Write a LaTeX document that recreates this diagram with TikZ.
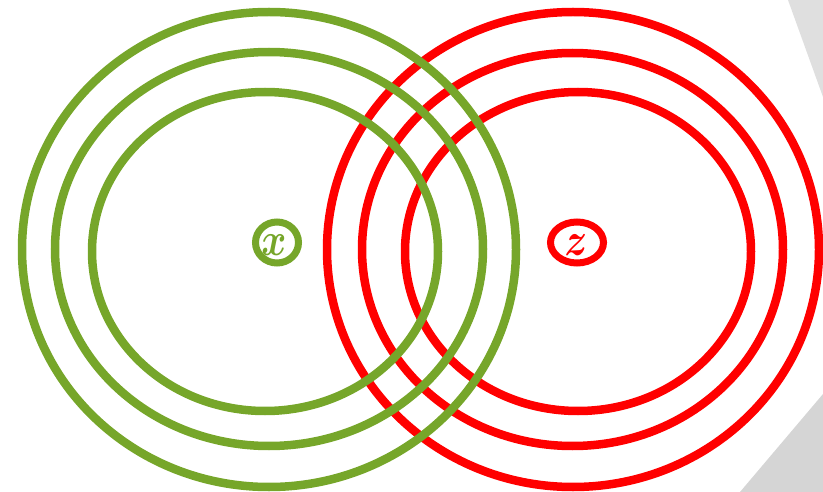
\documentclass[tikz,border=0pt]{standalone}
\usepackage{amsmath,bm}
\usetikzlibrary{shapes.geometric}
\definecolor{leafgreen}{RGB}{118,166,42}
\definecolor{ringred}{RGB}{255,0,0}

\begin{document}
\begin{tikzpicture}[x=1pt,y=-1pt,
  ring/.style={line width=8.5pt},
  varnode/.style={ellipse,line width=7pt,inner sep=0pt,fill=white,minimum height=41pt},
  varname/.style={inner sep=0pt,font=\LARGE}]
  \useasboundingbox (0,0) rectangle (823,492);
  % grey corners
  \fill[gray!25] (788,0) -- (823,0) -- (823,97) -- cycle;
  \fill[gray!33] (740,492) -- (823,394) -- (823,492) -- cycle;
  % red rings round z
  \draw[ring,ringred] (573,249.5) ellipse [x radius=246,y radius=237.5];
  \draw[ring,ringred] (572.5,249.5) ellipse [x radius=210.5,y radius=196.5];
  \draw[ring,ringred] (578,251.5) ellipse [x radius=173,y radius=159.5];
  % green rings round x
  \draw[ring,leafgreen] (269,249.5) ellipse [x radius=247,y radius=237.5];
  \draw[ring,leafgreen] (269,249) ellipse [x radius=214,y radius=197];
  \draw[ring,leafgreen] (265,251.5) ellipse [x radius=173,y radius=159.5];
  % the two variables
  \node[varnode,draw=leafgreen,minimum width=43pt] (x) at (277,242.5) {};
  \node[varname,text=leafgreen] (xname) at (274,245.5) {\scalebox{2.2}[2.7]{$\bm{x}$}};
  \node[varnode,draw=ringred,minimum width=53pt] (z) at (577,242.5) {};
  \node[varname,text=ringred] (zname) at (576,245.5) {\scalebox{2.2}[2.7]{$\bm{z}$}};
\end{tikzpicture}
\end{document}
